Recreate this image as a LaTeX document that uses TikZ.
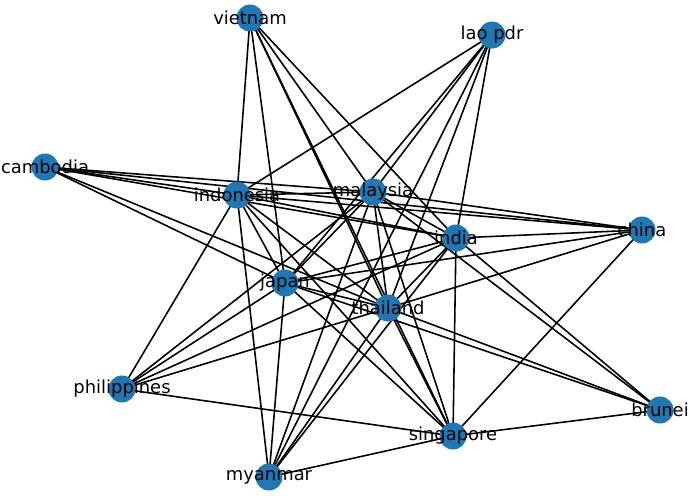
\documentclass[tikz,border=0pt]{standalone}
\usepackage{fontspec}
\setmainfont{DejaVu Sans}
\usetikzlibrary{backgrounds}

\definecolor{nodeblue}{HTML}{1F77B4}
\tikzset{
  country/.style={circle,fill=nodeblue,minimum size=0.54cm,inner sep=0pt,
    label={[font=\fontsize{10.2}{12}\selectfont,inner sep=0pt]center:#1}},
  link/.style={line width=0.9pt,black}
}

\begin{document}
\begin{tikzpicture}[x=0.02cm,y=-0.02cm]
    \useasboundingbox (0,0) rectangle (690,495);

    \node[country=vietnam] (vietnam) at (250,18) {};
    \node[country=lao pdr] (laopdr) at (492,35) {};
    \node[country=cambodia] (cambodia) at (45,167) {};
    \node[country=indonesia] (indonesia) at (237,195) {};
    \node[country=malaysia] (malaysia) at (373,192) {};
    \node[country=india] (india) at (456,238) {};
    \node[country=china] (china) at (642,230) {};
    \node[country=japan] (japan) at (285,283) {};
    \node[country=thailand] (thailand) at (388,308) {};
    \node[country=philippines] (philippines) at (122,389) {};
    \node[country=brunei] (brunei) at (660,410) {};
    \node[country=singapore] (singapore) at (453,436) {};
    \node[country=myanmar] (myanmar) at (269,477) {};

    % edges behind the nodes
    \begin{pgfonlayer}{background}
    \foreach \a/\b in {vietnam/indonesia, vietnam/japan, vietnam/thailand, vietnam/singapore,
        vietnam/malaysia, vietnam/india,
        laopdr/indonesia, laopdr/malaysia, laopdr/japan, laopdr/thailand, laopdr/india, laopdr/myanmar,
        cambodia/malaysia, cambodia/china, cambodia/indonesia, cambodia/india, cambodia/thailand, cambodia/japan,
        indonesia/malaysia, indonesia/india, indonesia/china, indonesia/japan, indonesia/thailand,
        indonesia/singapore, indonesia/myanmar, indonesia/philippines,
        malaysia/india, malaysia/china, malaysia/japan, malaysia/thailand, malaysia/singapore,
        malaysia/myanmar, malaysia/philippines, malaysia/brunei,
        india/china, india/japan, india/thailand, india/singapore, india/myanmar, india/philippines, india/brunei,
        china/japan, china/thailand, china/singapore,
        japan/thailand, japan/singapore, japan/myanmar, japan/philippines, japan/brunei,
        thailand/singapore, thailand/myanmar, thailand/philippines, thailand/brunei,
        philippines/singapore, singapore/myanmar, singapore/brunei}
      \draw[link] (\a.center) -- (\b.center);
    \end{pgfonlayer}
\end{tikzpicture}
\end{document}
